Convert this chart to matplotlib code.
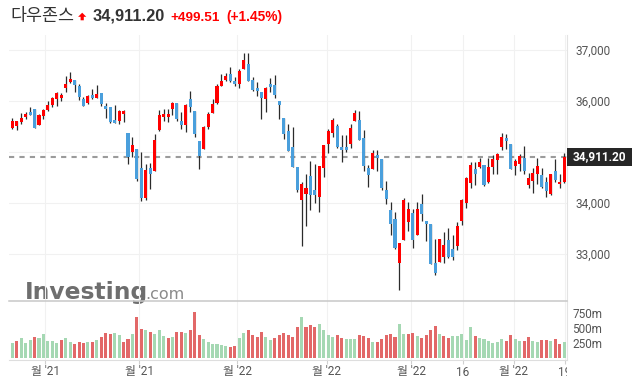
import numpy as np
import matplotlib
matplotlib.use("Agg")
import matplotlib.pyplot as plt
from matplotlib.patches import Rectangle, Polygon
from matplotlib.transforms import Bbox, TransformedBbox, blended_transform_factory

plt.rcParams['font.family'] = ['Roboto', 'Noto Sans CJK KR', 'DejaVu Sans']

# ---------- DATA ----------
title_name = "다우존스"
last_price = 34911.20
change_txt = "+499.51"
pct_txt = "(+1.45%)"

opens = [35476, 35516, 35588, 35686, 35784, 35843, 35535, 35712, 35829, 35922,
         36045, 36065, 36261, 36373, 36412, 36294, 36039, 35961, 36118, 36065,
         36151, 35902, 35882, 35627, 35614, 35751, 35373, 35006, 35059, 34686,
         34098, 34686, 34633, 35426, 35686, 35686, 35837, 35961, 35608, 35535,
         36039, 35804, 35216, 35065, 35490, 35771, 35955, 36300, 36412, 36529,
         36392, 36327, 36633, 36725, 36412, 36255, 36176, 36045, 36333, 36314,
         36000, 35661, 35418, 35098, 34706, 34065, 34182, 34529, 34255, 34124,
         34692, 35151, 35378, 35504, 35104, 35098, 35163, 35614, 35627, 35275,
         34692, 34673, 34941, 34863, 34261, 33863, 33692, 32829, 33280, 33627,
         33810, 33378, 33974, 33641, 33582, 32818, 32849, 32947, 33275, 33092,
         33157, 33653, 33994, 34386, 34661, 34700, 34739, 34406, 34700, 34837,
         35104, 35269, 35157, 34731, 34771, 34876, 34359, 34437, 34563, 34543,
         34412, 34171, 34622, 34367, 34406]
highs = [35661, 35610, 35759, 35784, 35876, 35850, 35739, 35849, 35994, 36073,
         36171, 36157, 36490, 36563, 36420, 36327, 36084, 36112, 36229, 36314,
         36155, 35955, 35890, 35922, 35824, 35824, 35380, 35288, 35065, 34994,
         34765, 34778, 35347, 35818, 35837, 35849, 35986, 35965, 35778, 35941,
         36190, 35810, 35220, 35510, 35790, 36045, 36327, 36529, 36549, 36673,
         36465, 36622, 36935, 36935, 36465, 36367, 36180, 36275, 36445, 36510,
         36005, 35665, 35549, 35484, 34710, 34412, 34575, 34818, 34759, 34730,
         35140, 35445, 35673, 35543, 35328, 35333, 35549, 35818, 35798, 35426,
         34745, 35039, 35039, 34870, 34431, 34014, 33818, 33220, 34092, 34014,
         33882, 34014, 34171, 33645, 33590, 33300, 33295, 33431, 33504, 33379,
         33627, 34078, 34504, 34798, 34798, 34876, 34745, 34876, 34935, 34975,
         35367, 35347, 35160, 34857, 34955, 35112, 34594, 34680, 34876, 34680,
         34504, 34570, 34857, 34563, 34975]
lows = [35451, 35437, 35543, 35641, 35731, 35470, 35529, 35641, 35798, 35888,
        35902, 35994, 36182, 36347, 36171, 36014, 35900, 35947, 36033, 36060,
        35908, 35661, 35563, 35570, 35543, 35594, 34759, 34896, 34425, 34039,
        34059, 34269, 34625, 35420, 35602, 35594, 35726, 35608, 35445, 35386,
        35790, 35288, 34661, 35060, 35445, 35765, 35950, 36295, 36386, 36367,
        36294, 36249, 36630, 36395, 36190, 36104, 35641, 35784, 36176, 36059,
        35641, 35261, 35020, 34700, 34222, 33151, 33543, 33869, 33994, 33823,
        34516, 34974, 35288, 35073, 34804, 34994, 35084, 35602, 35235, 34627,
        34308, 34670, 34633, 34255, 33975, 33367, 33092, 32288, 33275, 33457,
        33112, 33375, 33641, 33249, 32800, 32582, 32840, 32818, 32922, 32882,
        33078, 33569, 33896, 34288, 34347, 34680, 34330, 34390, 34563, 34563,
        35039, 35053, 34670, 34543, 34622, 34563, 34288, 34190, 34367, 34288,
        34112, 34165, 34406, 34288, 34386]
closes = [35608, 35602, 35667, 35745, 35731, 35476, 35720, 35824, 35922, 36059,
          36157, 36124, 36339, 36431, 36314, 36084, 35908, 36098, 36065, 36137,
          35935, 35843, 35588, 35574, 35804, 35804, 34896, 35137, 34477, 34098,
          34647, 34575, 35235, 35720, 35745, 35745, 35961, 35647, 35535, 35922,
          35882, 35359, 34928, 35484, 35745, 35941, 36294, 36392, 36490, 36398,
          36333, 36588, 36804, 36398, 36222, 36196, 36065, 36255, 36275, 36112,
          35916, 35359, 35026, 34706, 34255, 34373, 34294, 34163, 34163, 34725,
          35137, 35418, 35627, 35104, 35045, 35045, 35471, 35759, 35241, 34731,
          34555, 34980, 34888, 34294, 34085, 33594, 33124, 33216, 34065, 33888,
          33280, 33882, 33790, 33594, 32810, 32633, 33288, 33177, 32947, 32947,
          33549, 34059, 34484, 34739, 34563, 34798, 34347, 34700, 34857, 34955,
          35288, 35222, 34673, 34818, 34916, 34633, 34484, 34582, 34720, 34308,
          34230, 34563, 34445, 34412, 34911.2]

# volume in millions, g = green bar, r = red bar
volumes = [261, 294, 344, 261, 311, 361, 344, 411, 294, 294,
           261, 311, 344, 278, 244, 278, 261, 278, 278, 311,
           361, 428, 411, 428, 394, 278, 328, 411, 694, 494,
           478, 444, 411, 478, 378, 344, 361, 444, 444, 428,
           478, 778, 394, 328, 278, 244, 244, 228, 211, 194,
           211, 344, 428, 478, 394, 361, 444, 361, 311, 344,
           394, 428, 394, 361, 528, 694, 528, 561, 528, 578,
           478, 394, 361, 394, 344, 328, 328, 328, 394, 378,
           344, 278, 278, 328, 394, 411, 361, 578, 411, 411,
           428, 378, 344, 394, 478, 544, 411, 378, 344, 378,
           378, 411, 311, 528, 378, 344, 328, 294, 261, 278,
           328, 294, 394, 328, 294, 294, 361, 294, 278, 311,
           311, 294, 328, 244, 278]
vol_colors = ("grgggrgggg" "grggrrrgrg" "rrrggrrgrr" "grgggrgrrg" "rrrggggggr"
              "rggrrrrggr" "rrrrrgrrrg" "gggrrgggrr" "rgrrrrrggr" "rgrrrrgrrg"
              "ggggrggggg" "grrggrrggr" "rgrrg")

tick_pos = [7.35, 28.5, 50.5, 70.65, 89.7, 101.2, 112.7, 124.2]
tick_lbl = ["월 '21", "월 '21", "월 '22", "월 '22", "월 '22", "16", "월 '22", "19"]
price_ticks = [33000, 34000, 35000, 36000, 37000]
price_lbl = ["33,000", "34,000", "", "36,000", "37,000"]
vol_ticks = [250, 500, 750]
vol_lbl = ["250m", "500m", "750m"]

# ---------- FIGURE ----------
W, H = 632, 390
def fx(px):
    return px / W
def fy(py):
    return 1 - py / H

fig = plt.figure(figsize=(W / 100, H / 100), dpi=100)
ax = fig.add_axes([fx(9), fy(301), fx(567) - fx(9), fy(35) - fy(301)])
axv = fig.add_axes([fx(9), fy(360), fx(567) - fx(9), fy(301) - fy(360)], sharex=ax)
ax.set_facecolor('none')
axv.set_facecolor('none')

# ---------- CANDLES ----------
x = np.arange(len(closes))
o = np.array(opens, dtype=float)
c = np.array(closes, dtype=float)
h = np.array(highs, dtype=float)
l = np.array(lows, dtype=float)
cols = np.where(c >= o, '#ff0000', '#4a9fdc')

ax.axhline(last_price, color='#9b9b9b', lw=1.5, dashes=(2.5, 2.5), zorder=1.5)
ax.vlines(x, l, h, color='#2b2b2b', lw=0.9, zorder=2)
ax.bar(x, np.maximum(np.abs(c - o), 25), 0.68, bottom=np.minimum(o, c),
       color=cols, linewidth=0, zorder=3)

ax.set_xlim(-0.74, 124.65)
ax.set_ylim(32078, 37294)
ax.set_xticks(tick_pos)
ax.set_yticks(price_ticks)
ax.set_yticklabels(price_lbl)
ax.yaxis.tick_right()
ax.tick_params(axis='y', length=0, pad=6, labelsize=8.5, labelcolor='#555555')
ax.tick_params(axis='x', length=0, labelbottom=False)
ax.grid(True, color='#f1f1f1', lw=0.8)
ax.set_axisbelow(True)
for s in ['top', 'left', 'bottom']:
    ax.spines[s].set_visible(False)
ax.spines['right'].set_color('#e3e3e3')

# ---------- VOLUME ----------
vcols = ['#a5d8b3' if k == 'g' else '#e26868' for k in vol_colors]
axv.bar(x, volumes, 0.68, color=vcols, linewidth=0, zorder=2)
axv.set_ylim(-25, 958)
axv.set_yticks(vol_ticks)
axv.set_yticklabels(vol_lbl)
axv.yaxis.tick_right()
axv.tick_params(axis='y', length=0, pad=4, labelsize=8.5, labelcolor='#555555')
axv.tick_params(axis='x', length=3, color='#d0d0d0', labelbottom=False)
axv.grid(True, axis='x', color='#f1f1f1', lw=0.8)
axv.set_axisbelow(True)
axv.spines['left'].set_visible(False)
axv.spines['top'].set_color('#c8c8c8')
axv.spines['top'].set_linewidth(1.1)
axv.spines['bottom'].set_color('#dedede')
axv.spines['right'].set_color('#e3e3e3')

# x labels, cut at the right edge of the plot
clip = TransformedBbox(Bbox([[0, 0], [fx(567), 1]]), fig.transFigure)
tr = blended_transform_factory(axv.transData, fig.transFigure)
for p, lbl in zip(tick_pos, tick_lbl):
    t = fig.text(p, fy(372), lbl, transform=tr, ha='center', va='center',
                 fontsize=8.5, color='#555555', family=['Roboto', 'Noto Sans CJK KR'])
    t.set_clip_box(clip)
    t.set_clip_on(True)

# ---------- WATERMARK ----------
fig.text(fx(25), fy(299), "Investing", fontsize=16.8, weight='bold',
         family='DejaVu Sans', color='#6e6e6e', zorder=-1)
fig.text(fx(145), fy(299), ".com", fontsize=11.5, family='DejaVu Sans',
         color='#8a8a8a', zorder=-1)

# ---------- HEADER ----------
fig.text(fx(10), fy(20.7), title_name, fontsize=12.5, color='#333333',
         family=['Noto Sans CJK KR'], va='baseline')
arrow = [(82.2, 12.7), (86.3, 16.8), (83.8, 16.8), (83.8, 20.3),
         (80.6, 20.3), (80.6, 16.8), (78.1, 16.8)]
fig.add_artist(Polygon([(fx(a), fy(b)) for a, b in arrow], closed=True,
                       transform=fig.transFigure, color='#ff0000', lw=0))
fig.text(fx(93), fy(20.7), f"{last_price:,.2f}", fontsize=11.8, weight='bold',
         family='Liberation Sans', color='#333333', va='baseline')
fig.text(fx(170), fy(20.7), change_txt, fontsize=9.7, weight='bold',
         family='Liberation Sans', color='#ff0000', va='baseline')
fig.text(fx(226), fy(20.7), pct_txt, fontsize=9.9, weight='bold',
         family='Liberation Sans', color='#ff0000', va='baseline')

# last price box
fig.add_artist(Rectangle((fx(567), fy(166)), fx(632) - fx(567), fy(148) - fy(166),
                         transform=fig.transFigure, color='#262626', lw=0, zorder=5))
fig.text(fx(573), fy(157), f"{last_price:,.2f}", fontsize=8.5, weight='bold',
         color='white', va='center', zorder=6)

fig.savefig('out.png', dpi=100)
